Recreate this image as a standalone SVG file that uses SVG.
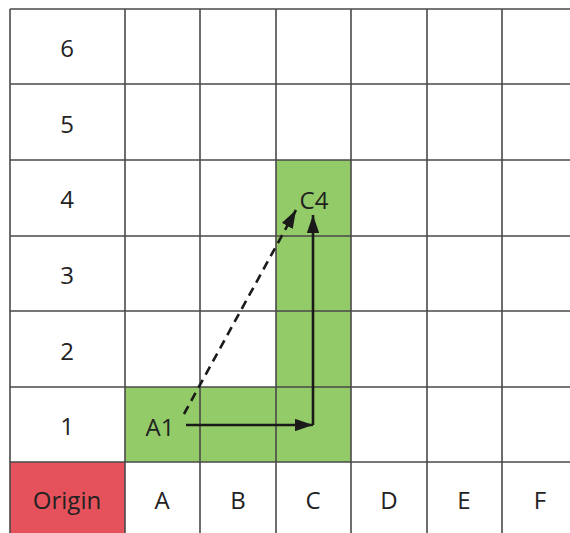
<svg xmlns="http://www.w3.org/2000/svg" width="570" height="533" viewBox="0 0 570 533">
<style>
.grid{stroke:#4a4a4a;stroke-width:1.6;fill:none}
.t{font-family:"Open Sans","Liberation Sans",sans-serif;font-size:24px;fill:#222;text-anchor:middle;dominant-baseline:central}
.arr{stroke:#1a1a1a;stroke-width:2.6;fill:none}
</style>
<defs>
<marker id="ah" viewBox="0 0 10 10" refX="10" refY="5" markerWidth="7" markerHeight="4.8" markerUnits="strokeWidth" orient="auto" preserveAspectRatio="none">
<path d="M0,0 L10,5 L0,10 Z" fill="#1a1a1a"/>
</marker>
</defs>
<rect width="570" height="533" fill="#fff"/>
<g id="cells">
<rect x="10" y="462" width="115" height="71" fill="#e5525c"/>
<rect x="125" y="387" width="226" height="75" fill="#92cb67"/>
<rect x="276" y="160" width="75" height="227" fill="#92cb67"/>
</g>
<g id="grid" class="grid">
<path d="M10,9 H570 M10,84 H570 M10,160 H570 M10,236 H570 M10,311 H570 M10,387 H570 M10,462 H570"/>
<path d="M10,9 V533 M125,9 V533 M200,9 V533 M276,9 V533 M351,9 V533 M427,9 V533 M502,9 V533"/>
</g>
<g id="labels">
<text class="t" x="67" y="47">6</text>
<text class="t" x="67" y="123">5</text>
<text class="t" x="67" y="198">4</text>
<text class="t" x="67" y="274">3</text>
<text class="t" x="67" y="350">2</text>
<text class="t" x="67" y="425">1</text>
<text class="t" x="67" y="499">Origin</text>
<text class="t" x="162" y="499">A</text>
<text class="t" x="238" y="499">B</text>
<text class="t" x="313" y="499">C</text>
<text class="t" x="389" y="499">D</text>
<text class="t" x="464" y="499">E</text>
<text class="t" x="540" y="499">F</text>
</g>
<g id="node-A1"><text class="t" x="160" y="426">A1</text></g>
<g id="node-C4"><text class="t" x="314" y="199">C4</text></g>
<g id="connectors">
<path class="arr" d="M186,425 H313" marker-end="url(#ah)"/>
<path class="arr" d="M313,425 V215" marker-end="url(#ah)"/>
<path class="arr" d="M184,414 L296,210" stroke-dasharray="9,6" stroke-width="2.2" marker-end="url(#ah)"/>
</g>
</svg>
